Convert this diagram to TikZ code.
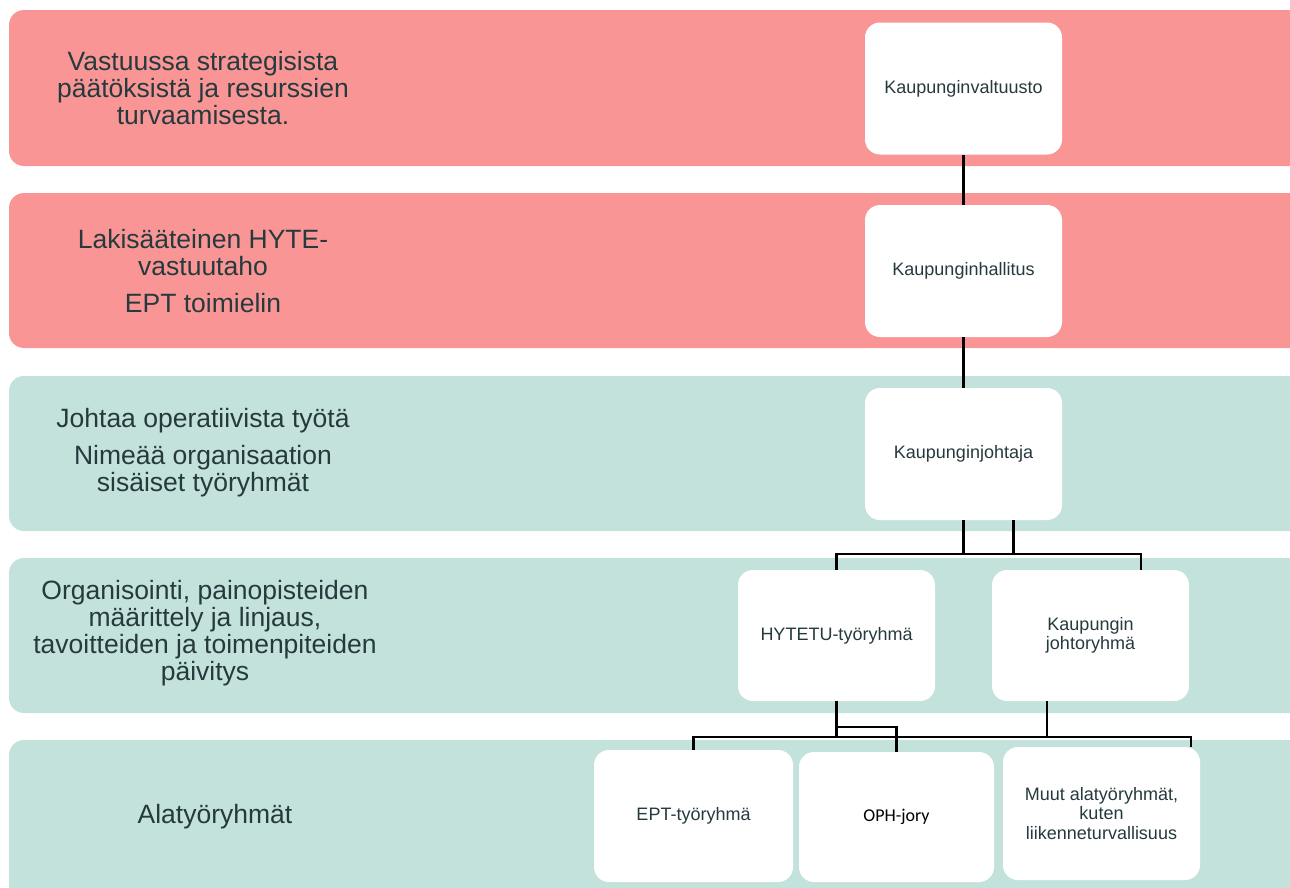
\documentclass[tikz,border=0pt]{standalone}
\usepackage{fontspec}
\setmainfont{Liberation Sans}
\newfontfamily\carlito{Carlito}
\usetikzlibrary{calc}
\definecolor{bandpink}{RGB}{249,150,149}
\definecolor{bandteal}{RGB}{196,226,220}
\definecolor{txt}{RGB}{38,58,62}
\begin{document}
\begin{tikzpicture}[x=1pt,y=-1pt,
 lbl/.style={align=center, text=txt, font=\fontsize{26.5}{27}\selectfont, inner sep=0pt},
 unit/.style={fill=white, rounded corners=15pt, minimum width=197pt, minimum height=132pt, align=center, text=txt, font=\fontsize{18}{19.5}\selectfont, inner sep=2pt},
 conn/.style={draw=black, line width=2.6pt}]
\useasboundingbox (0,0) rectangle (1290,887);
\begin{scope}
\clip (0,0) rectangle (1290,887);
\fill[bandpink, rounded corners=15pt] (9,10) rectangle (1330,166);
\fill[bandpink, rounded corners=15pt] (9,193) rectangle (1330,348);
\fill[bandteal, rounded corners=15pt] (9,376) rectangle (1330,531);
\fill[bandteal, rounded corners=15pt] (9,558) rectangle (1330,713);
\fill[bandteal, rounded corners=15pt] (9,740) rectangle (1330,930);
\end{scope}

% row labels
\node[lbl] (l1) at (203,88.5) {Vastuussa strategisista\\päätöksistä ja resurssien\\turvaamisesta.};
\node[lbl] (l2) at (203,271) {Lakisääteinen HYTE-\\vastuutaho\\[10pt]EPT toimielin};
\node[lbl] (l3) at (203,452.5) {Johtaa operatiivista työtä\\[10pt]Nimeää organisaation\\sisäiset työryhmät};
\node[lbl] (l4) at (205,633) {Organisointi, painopisteiden\\määrittely ja linjaus,\\tavoitteiden ja toimenpiteiden\\päivitys};
\node[lbl] (l5) at (215,817) {Alatyöryhmät};

% units
\node[unit] (v1) at (963.5,88.5) {Kaupunginvaltuusto};
\node[unit] (v2) at (963.5,271) {Kaupunginhallitus};
\node[unit] (v3) at (963.5,454) {Kaupunginjohtaja};
\node[unit, minimum height=131pt] (hyt) at (836.5,635.5) {HYTETU-työryhmä};
\node[unit, minimum height=131pt] (jo) at (1090.5,635.5) {Kaupungin\\johtoryhmä};
\node[unit, minimum width=199pt] (ept) at (693.5,816) {EPT-työryhmä};
\node[unit, minimum width=195pt, minimum height=130pt, font=\carlito\fontsize{18}{19.5}\selectfont, text=black] (oph) at (896.5,817) {OPH-jory};
\node[unit, minimum height=133pt] (muut) at (1101.5,813.5) {Muut alatyöryhmät,\\kuten\\liikenneturvallisuus};

% connectors
\coordinate (busA) at (0,554);
\coordinate (busB) at (0,737);
\coordinate (stepB) at (0,727);
\coordinate (v3r) at ([xshift=50pt]v3.south);
\coordinate (jr) at ([xshift=50.5pt]jo.north);
\coordinate (jl) at ([xshift=-43.5pt]jo.south);
\coordinate (mr) at ([xshift=89.5pt]muut.north);

\draw[conn] (v1.south) -- (v2.north);
\draw[conn] (v2.south) -- (v3.north);
\draw[conn] (v3.south) -- (v3.south |- busA);
\draw[conn] (v3r) -- (v3r |- busA);
\draw[conn] (hyt.north) -- (hyt.north |- busA) -- (jr |- busA) -- (jr);

\draw[conn] (hyt.south) -- (hyt.south |- busB);
\draw[conn] (hyt.south |- stepB) -- (oph.north |- stepB) -- (oph.north);
\draw[conn] (jl) -- (jl |- busB);
\draw[conn] (ept.north) -- (ept.north |- busB) -- (mr |- busB) -- (mr);
\end{tikzpicture}
\end{document}
